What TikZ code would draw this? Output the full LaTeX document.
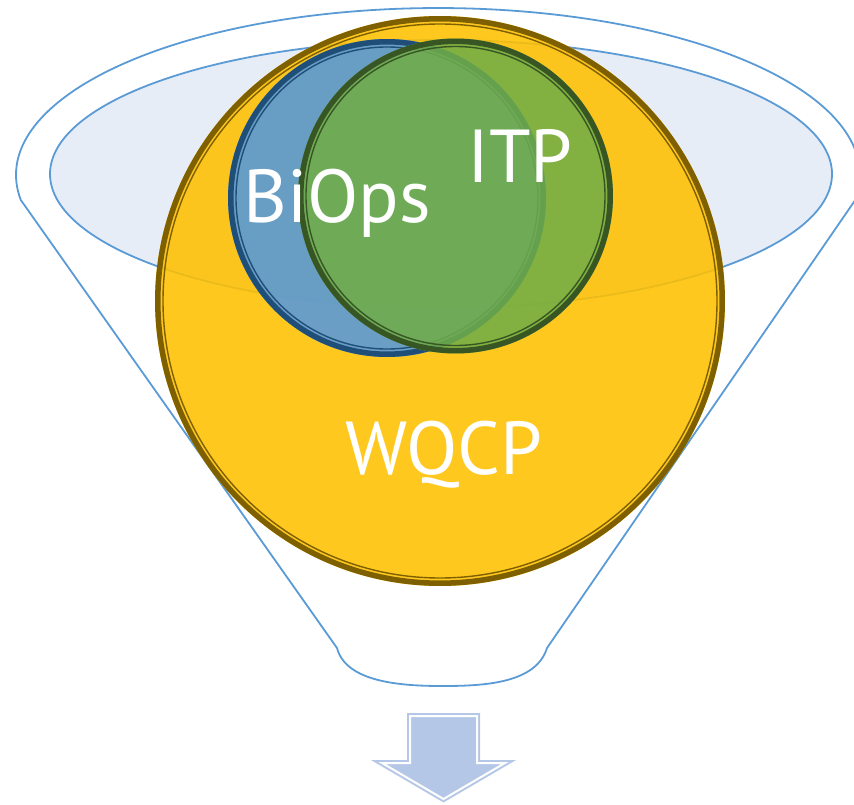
\documentclass[tikz,border=0pt]{standalone}
\usepackage{fontspec}
\setmainfont{PT Sans}
\definecolor{funnelc}{HTML}{5B9BD5}
\definecolor{innerc}{HTML}{E7EDF7}
\definecolor{yelc}{HTML}{FFC000}
\definecolor{brownc}{HTML}{7F6000}
\definecolor{bluec}{HTML}{5B9BD5}
\definecolor{dbluec}{HTML}{1F4E79}
\definecolor{greenc}{HTML}{70AD47}
\definecolor{dgreenc}{HTML}{375623}
\definecolor{arrowc}{HTML}{B4C7E7}
\tikzset{
  funnelline/.style={draw=funnelc, line width=1.8pt},
  lbl/.style={text=white, anchor=base, inner sep=0pt, font=\fontsize{75}{80}\selectfont},
  thickring/.style={line width=5.5pt},
  thinring/.style={line width=1.4pt}
}
\begin{document}
\begin{tikzpicture}[x=1pt,y=-1pt]
\useasboundingbox (0,0) rectangle (854,805);
\clip (0,0) rectangle (854,805);
% funnel outline
\draw[funnelline] (20.8,200) arc[start angle=171.4,end angle=368.6,x radius=422,y radius=167]
  -- (547,648) .. controls (536,684) and (482,686) .. (442,686)
  .. controls (400,686) and (346,682) .. (337,648) -- cycle;
% inner ellipse
\draw[funnelline, fill=innerc] (441,174) ellipse[x radius=391, y radius=134];
% WQCP circle
\fill[yelc, opacity=0.88] (440,301) circle[radius=285];
\draw[brownc, thickring] (440,301) circle[radius=282.2];
\draw[brownc, thinring] (440,301) circle[radius=277];
% BiOps circle
\fill[bluec, opacity=0.91] (387,198) circle[radius=159];
\draw[dbluec, thickring] (387,198) circle[radius=156.2];
\draw[dbluec, thinring] (387,198) circle[radius=151];
% ITP circle
\fill[greenc, opacity=0.87] (455.5,196) circle[radius=157.5];
\draw[dgreenc, thickring] (455.5,196) circle[radius=154.7];
\draw[dgreenc, thinring] (455.5,196) circle[radius=149.5];
% labels
\node[lbl] (biops) at (337,223) {BiOps};
\node[lbl] (itp) at (520,183) {ITP};
\node[lbl] (wqcp) at (444,474) {WQCP};
% arrow
\filldraw[fill=arrowc, draw=arrowc, line width=6pt, line join=miter]
  (410,716) -- (477,716) -- (477,763) -- (505,763) -- (443.5,799) -- (382,763) -- (410,763) -- cycle;
\draw[white, line width=2pt, line join=miter]
  (410,716) -- (477,716) -- (477,763) -- (505,763) -- (443.5,799) -- (382,763) -- (410,763) -- cycle;
\end{tikzpicture}
\end{document}
